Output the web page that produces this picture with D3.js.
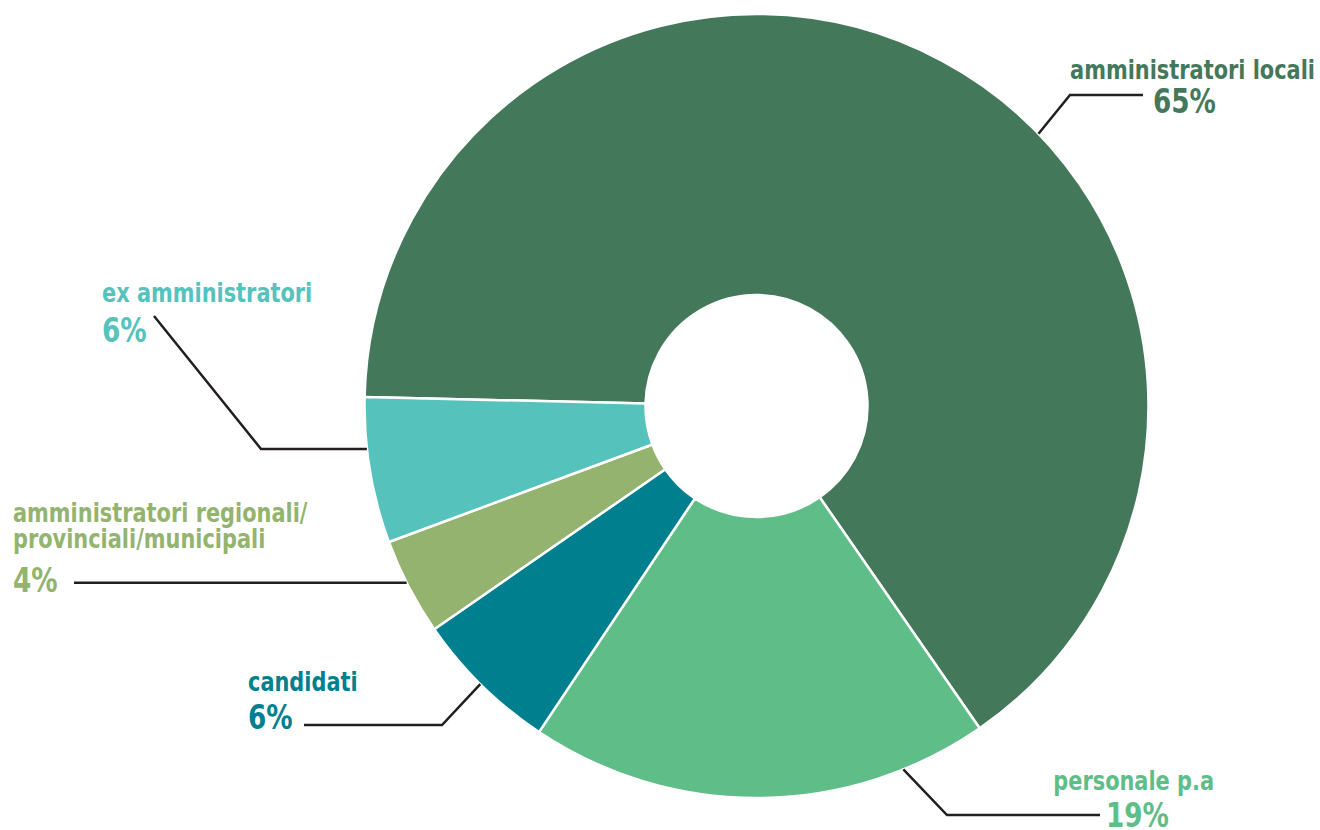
<!DOCTYPE html>
<html>
<head>
<meta charset="utf-8">
<script src="https://cdn.jsdelivr.net/npm/d3@7"></script>
<style>
  html, body { margin: 0; padding: 0; background: #fff; }
  svg { display: block; }
  text { font-family: "DejaVu Sans Condensed", "DejaVu Sans", sans-serif; font-stretch: condensed; font-weight: bold; }
</style>
</head>
<body>
<svg width="1320" height="830"></svg>
<script>
// data
const categories = ["amministratori locali", "personale p.a", "candidati", "amministratori regionali/provinciali/municipali", "ex amministratori"];
const values = [65, 19, 6, 4, 6];
const colors = ["#44785a", "#5fbd88", "#007f8f", "#93b36f", "#55c2bc"];

// label layout (leader angle in degrees, clockwise from 12 o'clock)
const labelLines = [
  ["amministratori locali"],
  ["personale p.a"],
  ["candidati"],
  ["amministratori regionali/", "provinciali/municipali"],
  ["ex amministratori"],
];
const layout = [
  { angle: 46, pts: [[1070, 95], [1143, 95]], anchor: "end", lx: 1315, ly: 79, px: 1153, py: 113 },
  { angle: 158, pts: [[947, 815], [1100, 815]], anchor: "end", lx: 1214, ly: 790, px: 1106, py: 827 },
  { angle: 224.8, pts: [[442, 725], [304, 725]], anchor: "start", lx: 248, ly: 691, px: 248, py: 729 },
  { angle: 243.2, pts: [[74, 583]], anchor: "start", lx: 13, ly: 522, px: 13, py: 592 },
  { angle: 263.7, pts: [[261, 449], [154, 316]], anchor: "start", lx: 102, ly: 302, px: 102, py: 342 },
];

const svg = d3.select("svg");
const cx = 756.5, cy = 406, outerR = 392, innerR = 111;
const squeeze = 0.86;

const pie = d3.pie()
  .value((d) => d)
  .sort(null)
  .startAngle((-88.7 * Math.PI) / 180)
  .endAngle((271.3 * Math.PI) / 180);

const arc = d3.arc().innerRadius(innerR).outerRadius(outerR);

const chart = svg.append("g").attr("transform", `translate(${cx},${cy})`);

chart
  .selectAll("path")
  .data(pie(values))
  .enter()
  .append("path")
  .attr("d", arc)
  .attr("fill", (d, i) => colors[i])
  .attr("stroke", "#fff")
  .attr("stroke-width", 2.5)
  .attr("stroke-linejoin", "round");

// leader lines
const leaders = svg.append("g").attr("id", "leaders");
leaders
  .selectAll("polyline")
  .data(layout)
  .enter()
  .append("polyline")
  .attr("points", (d) => {
    const a = (d.angle * Math.PI) / 180;
    const start = [cx + outerR * Math.sin(a), cy - outerR * Math.cos(a)];
    const pts = [start].concat(d.pts);
    if (d.pts.length === 1) pts[1] = [d.pts[0][0], start[1]];
    return pts.map((p) => p.join(",")).join(" ");
  })
  .attr("fill", "none")
  .attr("stroke", "#231f20")
  .attr("stroke-width", 2.5);

// labels (condensed font squeezed a bit more to match)
const labels = svg.append("g").attr("id", "labels");
categories.forEach((c, i) => {
  const d = layout[i];
  const t = labels
    .append("text")
    .attr("transform", `translate(${d.lx},${d.ly}) scale(${squeeze},1)`)
    .attr("text-anchor", d.anchor)
    .attr("fill", colors[i])
    .attr("font-size", 27);
  labelLines[i].forEach((line, j) => {
    t.append("tspan")
      .attr("x", 0)
      .attr("dy", j === 0 ? 0 : 26)
      .text(line);
  });
  labels
    .append("text")
    .attr("transform", `translate(${d.px},${d.py}) scale(${squeeze},1)`)
    .attr("text-anchor", "start")
    .attr("fill", colors[i])
    .attr("font-size", 34)
    .text(values[i] + "%");
});
</script>
</body>
</html>
